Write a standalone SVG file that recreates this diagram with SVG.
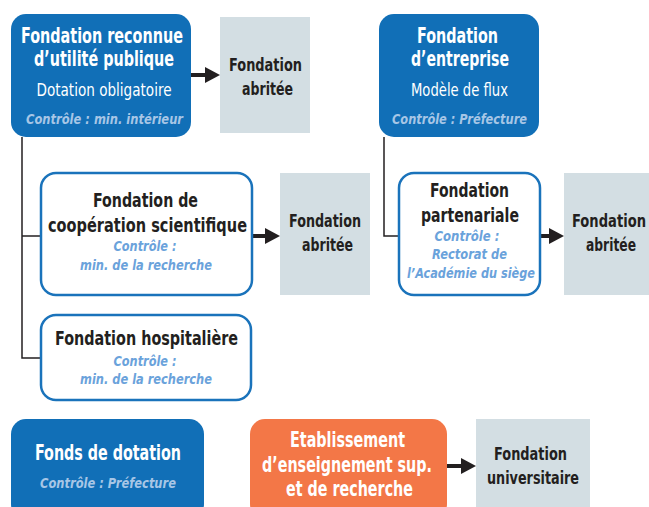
<svg xmlns="http://www.w3.org/2000/svg" width="649" height="507" viewBox="0 0 649 507">
<defs>
<marker id="ah" markerWidth="15" markerHeight="16" refX="0" refY="8" orient="auto" markerUnits="userSpaceOnUse">
<path d="M0,0 L15,8 L0,16 z" fill="#231f20"/>
</marker>
<style>
text{font-family:"DejaVu Sans","Liberation Sans",sans-serif;font-stretch:condensed;text-anchor:middle}
.blue{fill:#116fb7}
.white{fill:#fff;stroke:#1a73bb;stroke-width:2.5}
.grey{fill:#d3dee3}
.orange{fill:#f37747}
.t{font-weight:bold;font-size:21px;fill:#fff}
.d{font-weight:bold;font-size:20px;fill:#231f20}
.g{font-weight:bold;font-size:18px;fill:#231f20}
.s{font-weight:normal;font-size:18px;fill:#fff}
.c{font-weight:bold;font-style:italic;font-size:14.5px;fill:#a7c6e6}
.cb{font-weight:bold;font-style:italic;font-size:14.5px;fill:#6aa2db}
.ln{fill:none;stroke:#231f20;stroke-width:1.5}
.ar{fill:none;stroke:#231f20;stroke-width:4;marker-end:url(#ah)}
</style>
</defs>
<rect width="649" height="507" fill="#fff"/>
<g id="connectors">
<path class="ln" d="M22,137 V358 H41"/>
<path class="ln" d="M22,236 H41"/>
<path class="ln" d="M384,137 V236 H399"/>
<path class="ar" d="M191,75 H205"/>
<path class="ar" d="M252,236 H265"/>
<path class="ar" d="M540,236 H549"/>
<path class="ar" d="M447,466 H461"/>
</g>
<g id="frup">
<rect class="blue" x="11" y="14" width="180" height="123" rx="15"/>
<text class="t" x="102" y="43" textLength="162" lengthAdjust="spacingAndGlyphs">Fondation reconnue</text>
<text class="t" x="104" y="66" textLength="140" lengthAdjust="spacingAndGlyphs">d’utilité publique</text>
<text class="s" x="104" y="96" textLength="135" lengthAdjust="spacingAndGlyphs">Dotation obligatoire</text>
<text class="c" x="104.5" y="124" textLength="157" lengthAdjust="spacingAndGlyphs">Contrôle : min. intérieur</text>
</g>
<g id="abritee1">
<rect class="grey" x="220" y="17" width="90" height="116"/>
<text class="g" x="265.5" y="71" textLength="73" lengthAdjust="spacingAndGlyphs">Fondation</text>
<text class="g" x="267.5" y="95" textLength="51" lengthAdjust="spacingAndGlyphs">abritée</text>
</g>
<g id="fentreprise">
<rect class="blue" x="379" y="14" width="160" height="123" rx="15"/>
<text class="t" x="457.5" y="43" textLength="81" lengthAdjust="spacingAndGlyphs">Fondation</text>
<text class="t" x="460" y="66" textLength="98" lengthAdjust="spacingAndGlyphs">d’entreprise</text>
<text class="s" x="459.5" y="96" textLength="97" lengthAdjust="spacingAndGlyphs">Modèle de flux</text>
<text class="c" x="459.5" y="124" textLength="135" lengthAdjust="spacingAndGlyphs">Contrôle : Préfecture</text>
</g>
<g id="fcs">
<rect class="white" x="41" y="173" width="211" height="122" rx="15"/>
<text class="d" x="145.5" y="207" textLength="105" lengthAdjust="spacingAndGlyphs">Fondation de</text>
<text class="d" x="147.5" y="232" textLength="199" lengthAdjust="spacingAndGlyphs">coopération scientifique</text>
<text class="cb" x="145" y="251" textLength="63" lengthAdjust="spacingAndGlyphs">Contrôle :</text>
<text class="cb" x="146" y="270" textLength="132" lengthAdjust="spacingAndGlyphs">min. de la recherche</text>
</g>
<g id="abritee2">
<rect class="grey" x="280" y="173" width="90" height="122"/>
<text class="g" x="325" y="227" textLength="72" lengthAdjust="spacingAndGlyphs">Fondation</text>
<text class="g" x="327.5" y="251" textLength="51" lengthAdjust="spacingAndGlyphs">abritée</text>
</g>
<g id="fpartenariale">
<rect class="white" x="399" y="173" width="141" height="122" rx="15"/>
<text class="d" x="469.5" y="197" textLength="79" lengthAdjust="spacingAndGlyphs">Fondation</text>
<text class="d" x="470" y="222" textLength="98" lengthAdjust="spacingAndGlyphs">partenariale</text>
<text class="cb" x="467" y="241" textLength="65" lengthAdjust="spacingAndGlyphs">Contrôle :</text>
<text class="cb" x="469.5" y="259" textLength="75" lengthAdjust="spacingAndGlyphs">Rectorat de</text>
<text class="cb" x="471" y="278" textLength="128" lengthAdjust="spacingAndGlyphs">l’Académie du siège</text>
</g>
<g id="abritee3">
<rect class="grey" x="564" y="173" width="85" height="122"/>
<text class="g" x="609" y="227" textLength="74" lengthAdjust="spacingAndGlyphs">Fondation</text>
<text class="g" x="611" y="251" textLength="50" lengthAdjust="spacingAndGlyphs">abritée</text>
</g>
<g id="fhosp">
<rect class="white" x="41" y="315" width="210" height="85" rx="15"/>
<text class="d" x="146.5" y="345" textLength="183" lengthAdjust="spacingAndGlyphs">Fondation hospitalière</text>
<text class="cb" x="145" y="366" textLength="63" lengthAdjust="spacingAndGlyphs">Contrôle :</text>
<text class="cb" x="146" y="384" textLength="132" lengthAdjust="spacingAndGlyphs">min. de la recherche</text>
</g>
<g id="fdotation">
<rect class="blue" x="11" y="419" width="193" height="100" rx="15"/>
<text class="t" x="108" y="460" textLength="146" lengthAdjust="spacingAndGlyphs">Fonds de dotation</text>
<text class="c" x="108" y="488" textLength="136" lengthAdjust="spacingAndGlyphs">Contrôle : Préfecture</text>
</g>
<g id="esr">
<rect class="orange" x="250" y="419" width="197" height="100" rx="15"/>
<text class="t" x="347.5" y="447" textLength="115" lengthAdjust="spacingAndGlyphs">Etablissement</text>
<text class="t" x="347" y="472" textLength="170" lengthAdjust="spacingAndGlyphs">d’enseignement sup.</text>
<text class="t" x="349.5" y="496" textLength="127" lengthAdjust="spacingAndGlyphs">et de recherche</text>
</g>
<g id="funiv">
<rect class="grey" x="476" y="419" width="114" height="95"/>
<text class="g" x="530.5" y="460" textLength="73" lengthAdjust="spacingAndGlyphs">Fondation</text>
<text class="g" x="533" y="484" textLength="92" lengthAdjust="spacingAndGlyphs">universitaire</text>
</g>
</svg>
